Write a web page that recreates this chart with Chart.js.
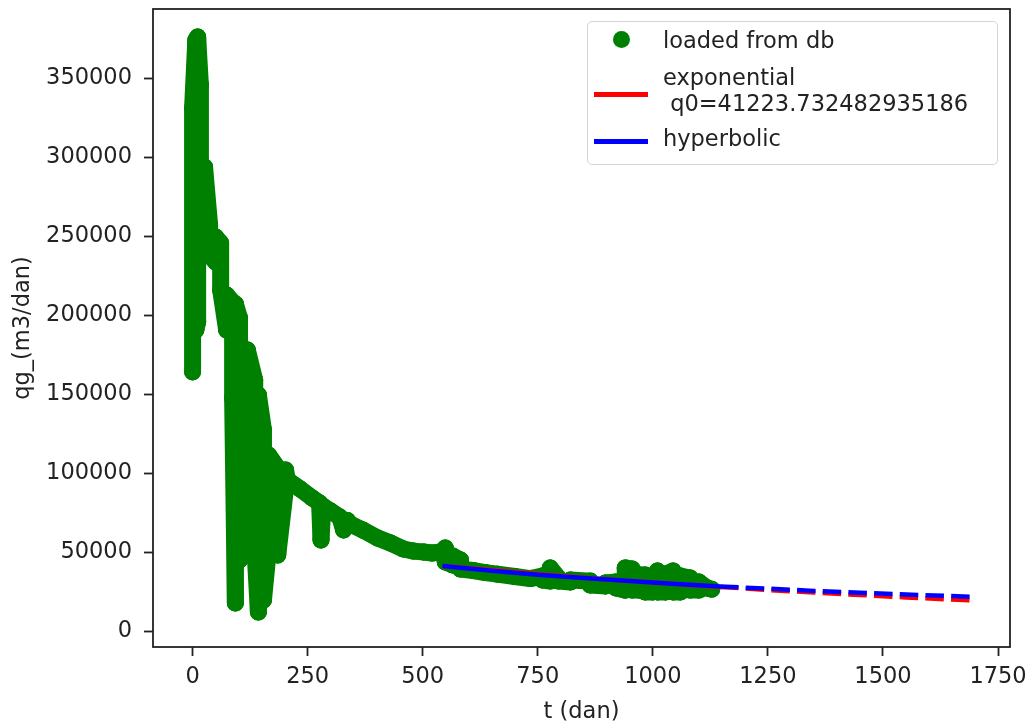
<!DOCTYPE html>
<html>
<head>
<meta charset="utf-8">
<script src="https://cdn.jsdelivr.net/npm/chart.js@4"></script>
<style>
  body { margin: 0; background: #fff; }
  #wrap { position: relative; width: 1030px; height: 721px; }
  #legend {
    position: absolute; left: 587px; top: 21px; width: 409px; height: 142px;
    border: 1.5px solid #d4d4d4; border-radius: 5px; background: rgba(255,255,255,0.8);
    font-family: 'DejaVu Sans'; font-size: 22.5px; color: #222;
  }
  #legend .txt { position: absolute; left: 75px; line-height: 26px; white-space: pre; }
  #legend .dot { position: absolute; left: 25px; top: 9px; width: 17px; height: 17px; border-radius: 50%; background: green; }
  #legend .ln { position: absolute; left: 6px; width: 54px; height: 4.5px; }
</style>
</head>
<body>
<div id="wrap">
  <canvas id="myChart" width="1030" height="721"></canvas>
  <div id="legend">
    <div class="dot"></div>
    <div class="txt" style="top:5px">loaded from db</div>
    <div class="ln" style="top:70px;background:red"></div>
    <div class="txt" style="top:42px">exponential
 q0=41223.732482935186</div>
    <div class="ln" style="top:117px;background:blue"></div>
    <div class="txt" style="top:103px">hyperbolic</div>
  </div>
</div>
<script>
// measured points (t in days, qg in m3/day), traced as a path through the dense scatter
var loadedT = [0, 0, 7, 7, 11, 11, 17, 17, 26, 26, 37, 37, 50, 50, 61, 61, 74, 74, 87, 87,
    93, 93, 102, 102, 119, 119, 135, 135, 143, 143, 154, 154, 165, 165, 185, 185, 202, 202,
    206, 234, 260, 276, 279, 283, 300, 320, 328, 336, 343, 370, 402, 430, 458, 480, 502, 520, 540,
    549, 549, 565, 565, 582, 582, 610, 636, 662, 700, 734,
    760, 760, 777, 777, 795, 795, 821, 821, 864, 864, 897, 897, 920, 920, 940, 940, 955, 955,
    970, 970, 983, 983, 1000, 1000, 1010, 1010, 1028, 1028, 1044, 1044, 1060, 1060, 1081, 1081,
    1100, 1100, 1118, 1128];
var loadedQ = [163900, 331000, 374000, 190500, 195600, 376000, 345600, 241100, 239900, 293700,
    257000, 238000, 233500, 249400, 245600, 215800, 190500, 212700, 208200, 147500,
    17700, 207000, 198100, 44900, 51300, 177800, 158900, 54400, 12000, 149400, 127200, 19600,
    52500, 111400, 103200, 48100, 90500, 101900,
    95600, 89900, 84200, 81000, 57600, 79100, 75900, 72100, 64000, 70000, 67700, 63900, 58900,
    55700, 51900, 50600, 50000, 49400, 50000,
    52500, 43700, 41800, 47500, 44900, 39200, 38300, 37000, 36000, 34500, 33200,
    34800, 32300, 31600, 39900, 33500, 31600, 31000, 32300, 31600, 29100, 28500, 30400,
    31000, 27200, 25900, 39900, 39200, 25900, 25900, 35400, 35400, 24700, 24700, 33500,
    38000, 24700, 24700, 36100, 38000, 24700, 24700, 34800, 33500, 25900, 25900, 31000,
    27200, 26500];

// fitted decline curves
var fitT = [543, 650, 750, 850, 950, 1050, 1146, 1250, 1350, 1450, 1550, 1690];
var expQ = [41200, 38600, 36100, 33800, 31700, 29700, 27900, 26000, 24400, 22800, 21300, 19400];
var hypQ = [41200, 38200, 35700, 33500, 31600, 29800, 28200, 26800, 25400, 24200, 23100, 21700];
var forecastFrom = 1146;

var xTicks = [0, 250, 500, 750, 1000, 1250, 1500, 1750];
var yTicks = [0, 50000, 100000, 150000, 200000, 250000, 300000, 350000];

function pts(xs, ys) {
    return xs.map(function (x, i) { return {x: x, y: ys[i]}; });
}

var dashAfter = function (c) {
    return c.p0.parsed.x >= forecastFrom ? [18.5, 7.2] : undefined;
};

var frame = {
    id: 'frame',
    afterDatasetsDraw: function (chart) {
        var a = chart.chartArea, ctx = chart.ctx;
        ctx.save();
        ctx.strokeStyle = '#222';
        ctx.lineWidth = 1.8;
        ctx.strokeRect(a.left, a.top, a.right - a.left, a.bottom - a.top);
        ctx.restore();
    }
};

Chart.defaults.font.family = 'DejaVu Sans';
Chart.defaults.color = '#222';

var tickGrid = {display: true, drawOnChartArea: false, drawTicks: true, tickLength: 9, tickWidth: 1.8, tickColor: '#222'};

var ctx = document.getElementById('myChart').getContext('2d');
var chart = new Chart(ctx, {
    type: 'scatter',
    data: {
        datasets: [{
            label: 'hyperbolic',
            data: pts(fitT, hypQ),
            showLine: true,
            borderColor: 'blue',
            borderWidth: 4.5,
            pointRadius: 0,
            segment: {borderDash: dashAfter},
            order: 0
        }, {
            label: 'exponential',
            data: pts(fitT, expQ),
            showLine: true,
            borderColor: 'red',
            borderWidth: 4.5,
            pointRadius: 0,
            segment: {borderDash: dashAfter},
            order: 1
        }, {
            label: 'loaded from db',
            data: pts(loadedT, loadedQ),
            showLine: true,
            borderColor: 'green',
            borderWidth: 17,
            borderJoinStyle: 'round',
            borderCapStyle: 'round',
            // same colour written two ways: makes every segment its own stroke,
            // so the zig-zag never leaves holes in the thick band
            segment: {borderColor: function (c) { return c.p0DataIndex % 2 ? 'green' : '#008000'; }},
            pointRadius: 8.5,
            pointBackgroundColor: 'green',
            pointBorderWidth: 0,
            order: 2
        }]
    },
    options: {
        responsive: false,
        animation: false,
        devicePixelRatio: 1,
        layout: {padding: {top: 9, right: 20}},
        plugins: {legend: {display: false}, tooltip: {enabled: false}},
        scales: {
            x: {
                type: 'linear', min: -86, max: 1776,
                afterBuildTicks: function (s) { s.ticks = xTicks.map(function (v) { return {value: v}; }); },
                afterFit: function (s) { s.height = 74; s.paddingLeft = 0; s.paddingRight = 0; },
                ticks: {callback: function (v) { return String(v); }, font: {size: 22.5}, padding: 8, maxRotation: 0, autoSkip: false},
                grid: tickGrid,
                border: {display: false},
                title: {display: true, text: 't (dan)', font: {size: 22.5}, padding: {top: 0, bottom: -5}}
            },
            y: {
                type: 'linear', min: -10100, max: 393700,
                afterBuildTicks: function (s) { s.ticks = yTicks.map(function (v) { return {value: v}; }); },
                afterFit: function (s) { s.width = 153; s.paddingTop = 0; s.paddingBottom = 0; },
                ticks: {callback: function (v) { return String(v); }, font: {size: 22.5}, padding: 12, autoSkip: false},
                grid: tickGrid,
                border: {display: false},
                title: {display: true, text: 'qg_(m3/dan)', font: {size: 22.5}, padding: {top: 10, bottom: 0}}
            }
        }
    },
    plugins: [frame]
});
</script>
</body>
</html>
